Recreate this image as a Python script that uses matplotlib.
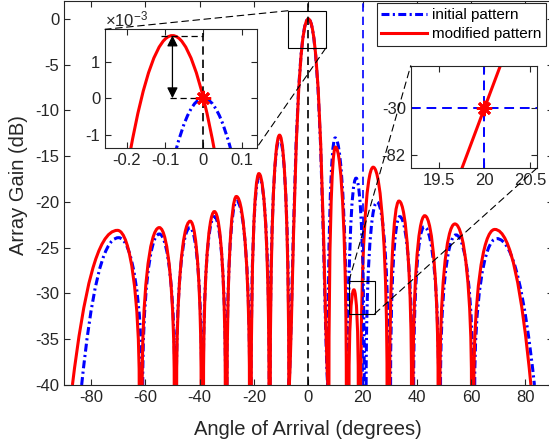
import matplotlib
matplotlib.use('Agg')
import matplotlib.pyplot as plt
from matplotlib.path import Path
from matplotlib.patches import PathPatch, Rectangle, ConnectionPatch
from matplotlib.lines import Line2D

plt.rcParams['font.family'] = ['Liberation Sans', 'DejaVu Sans']
plt.rcParams['mathtext.fontset'] = 'custom'
plt.rcParams['mathtext.rm'] = 'Liberation Sans'
plt.rcParams['mathtext.it'] = 'Liberation Sans:italic'
plt.rcParams['axes.unicode_minus'] = False

GREY = '#262626'
FLOOR = -40
DASHDOT = (0, (2.6, 1.1, 0.7, 1.1))

# lobes of each pattern: where it leaves -40 dB on the left, its peak, where it drops back on the right
init_left = [-83.5, -61.0, -48.6, -38.7, -30.0, -21.1, -14.1, -7.1, 7.2, 14.6, 21.3, 30.3, 38.8, 48.7, 61.3]
init_peak_x = [-69.9, -54.9, -43.6, -34.6, -26.4, -18.1, -10.6, 0.0, 9.9, 17.6, 25.3, 33.7, 42.7, 54.4, 69.4]
init_peak_y = [-23.9, -23.5, -22.8, -21.6, -19.9, -17.3, -13.1, 0.0, -13.0, -17.4, -20.0, -21.6, -22.7, -23.6, -24.0]
init_right = [-61.3, -49.2, -39.3, -30.5, -21.6, -14.4, -7.1, 7.1, 14.2, 20.6, 29.6, 38.3, 48.0, 60.6, 83.3]

mod_left = [-86.9, -61.2, -48.5, -38.6, -29.9, -21.0, -14.0, -7.0, 7.6, 15.0, 19.4, 30.0, 38.6, 48.5, 61.0]
mod_peak_x = [-70.3, -54.9, -43.5, -34.6, -26.5, -18.2, -10.6, 0.0, 10.0, 16.8, 23.9, 33.4, 42.9, 54.0, 68.7]
mod_peak_y = [-23.1, -22.8, -22.1, -21.05, -19.4, -16.9, -12.7, 0.0, -14.0, -29.6, -16.2, -19.9, -21.5, -22.4, -23.0]
mod_right = [-62.3, -49.4, -39.5, -30.6, -21.7, -14.5, -7.2, 7.2, 14.0, 18.4, 29.0, 38.0, 47.8, 60.1, 82.0]

# zoom on the main beam (gain in 1e-3 dB)
beam_init_x = [-0.074, 0.0, 0.074]
beam_init_y = [-1.5, 0.0, -1.5]
beam_mod_x = [-0.192, -0.081, 0.030]
beam_mod_y = [-1.5, 1.71, -1.5]

# zoom on the constrained direction
cons_mod_x = [19.74, 20.22]
cons_mod_y = [-31.24, -28.96]
target_angle = 20
target_gain = -30

# boxes marking the zoomed regions (x0, x1, y0, y1)
box_beam = [-7.5, 6.4, -3.2, 0.9]
box_cons = [15.0, 24.5, -32.2, -28.6]

# side shapes (fraction along, fraction up) for the bezier control points
SHAPE_NULL = (0.0, 0.55, 0.4)
SHAPE_MAIN = (0.2, 0.2, 0.3)
SHAPE_EDGE = (0.25, 0.6, 0.55)


def ctrl(base, top_x, top_y, shape):
    p, k, m = shape
    h = top_y - FLOOR
    return (base + p * (top_x - base), FLOOR + k * h), (base + m * (top_x - base), top_y)


def lobe_path(left, peak_x, peak_y, right):
    verts, codes = [], []
    n = len(left)
    for i in range(n):
        a, px, py, b = left[i], peak_x[i], peak_y[i], right[i]
        sl = SHAPE_MAIN if py > -5 else SHAPE_NULL
        sr = sl
        if i == 0:
            sl = SHAPE_EDGE
        if i == n - 1:
            sr = SHAPE_EDGE
        c1, c2 = ctrl(a, px, py, sl)
        d1, d2 = ctrl(b, px, py, sr)
        verts += [(a, FLOOR), c1, c2, (px, py), d2, d1, (b, FLOOR)]
        codes += [Path.MOVETO] + [Path.CURVE4] * 6
    return Path(verts, codes)


def parabola(xs, ys):
    verts = [(xs[0], ys[0]), (xs[1], 2 * ys[1] - ys[0]), (xs[2], ys[2])]
    return Path(verts, [Path.MOVETO, Path.CURVE3, Path.CURVE3])


def style_axes(a, size=12):
    a.tick_params(direction='in', top=True, right=True, labelsize=size,
                  colors=GREY, length=4, width=0.8)
    for s in a.spines.values():
        s.set_color(GREY)
        s.set_linewidth(0.8)


fig = plt.figure(figsize=(5.49, 4.46), dpi=100)
ax = fig.add_axes([0.1166, 0.1368, 0.890, 0.8617])

ax.add_patch(PathPatch(lobe_path(init_left, init_peak_x, init_peak_y, init_right),
                       fill=False, edgecolor='b', lw=2.2, linestyle=DASHDOT))
ax.add_patch(PathPatch(lobe_path(mod_left, mod_peak_x, mod_peak_y, mod_right),
                       fill=False, edgecolor='r', lw=2.2))
ax.axvline(0, color='k', ls=(0, (5, 3)), lw=1.2, zorder=3)
ax.axvline(target_angle, color='b', ls=(0, (5, 3)), lw=1.2, zorder=3)

for bx in (box_beam, box_cons):
    ax.add_patch(Rectangle((bx[0], bx[2]), bx[1] - bx[0], bx[3] - bx[2],
                           fill=False, edgecolor='k', lw=0.8, zorder=4))

ax.set_xlim(-90, 90)
ax.set_ylim(-40, 2)
ax.set_xticks(range(-80, 81, 20))
ax.set_yticks(range(-40, 1, 5))
style_axes(ax)
ax.set_xlabel('Angle of Arrival (degrees)', fontsize=14.5, color=GREY, labelpad=11)
ax.set_ylabel('Array Gain (dB)', fontsize=14.5, color=GREY)
ax.yaxis.set_label_coords(-0.074, 0.52)

handles = [Line2D([], [], color='b', lw=2.2, ls=DASHDOT), Line2D([], [], color='r', lw=2.2)]
leg = ax.legend(handles, ['initial pattern', 'modified pattern'], loc='upper left',
                bbox_to_anchor=(376.7 / 549, 1 - 3.3 / 446), bbox_transform=fig.transFigure,
                fontsize=11, fancybox=False, edgecolor=GREY, framealpha=1,
                borderaxespad=0, borderpad=0.3, handlelength=3.0,
                handletextpad=0.35, labelspacing=0.35)
leg.get_frame().set_linewidth(0.8)

# inset: main beam peak
ax1 = fig.add_axes([0.1913, 0.6688, 0.2763, 0.2655])
ax1.add_patch(PathPatch(parabola(beam_init_x, beam_init_y), fill=False,
                        edgecolor='b', lw=2.2, linestyle=DASHDOT))
ax1.add_patch(PathPatch(parabola(beam_mod_x, beam_mod_y), fill=False,
                        edgecolor='r', lw=2.2))
ax1.axvline(0, color='k', ls=(0, (5, 3)), lw=1.2)
ax1.hlines(beam_mod_y[1], -0.11, 0, color='k', ls=(0, (5, 3)), lw=0.9)
ax1.hlines(beam_init_y[1], -0.087, 0, color='k', ls=(0, (5, 3)), lw=0.9)
ax1.annotate('', xy=(beam_mod_x[1], beam_init_y[1]), xytext=(beam_mod_x[1], beam_mod_y[1]),
             arrowprops=dict(arrowstyle='<|-|>', color='k', lw=0.9, mutation_scale=16,
                             shrinkA=0, shrinkB=0))
ax1.plot(beam_init_x[1], beam_init_y[1], marker=(8, 2, 0), color='r', ms=11, mew=2, zorder=5)
ax1.set_xlim(-0.257, 0.139)
ax1.set_ylim(-1.35, 1.88)
ax1.set_xticks([-0.2, -0.1, 0, 0.1])
ax1.set_xticklabels(['-0.2', '-0.1', '0', '0.1'])
ax1.set_yticks([-1, 0, 1])
style_axes(ax1)
ax1.text(0.0, 1.0, r'$\times10^{-3}$', transform=ax1.transAxes, ha='left', va='bottom',
         fontsize=12, color=GREY)

# inset: constrained direction
ax2 = fig.add_axes([0.7481, 0.6226, 0.2295, 0.2300])
ax2.plot(cons_mod_x, cons_mod_y, color='r', lw=2.2)
ax2.axvline(target_angle, color='b', ls=(0, (5, 3)), lw=1.4)
ax2.axhline(target_gain, color='b', ls=(0, (5, 3)), lw=1.4)
ax2.plot(target_angle, target_gain, marker=(8, 2, 0), color='r', ms=11, mew=2, zorder=5)
ax2.set_xlim(19.194, 20.574)
ax2.set_ylim(-31.17, -29.17)
ax2.set_xticks([19.5, 20, 20.5])
ax2.set_xticklabels(['19.5', '20', '20.5'])
ax2.set_yticks([-30.91, -30])
ax2.set_yticklabels(['-82', '-30'])
style_axes(ax2)

# dashed connectors from boxes to insets
links = [((box_beam[0], box_beam[3]), ax1, (0, 1)),
         ((box_beam[1], box_beam[2]), ax1, (1, 0)),
         ((box_cons[0], box_cons[3]), ax2, (0, 1)),
         ((box_cons[1], box_cons[2]), ax2, (1, 0))]
for xy, target, corner in links:
    con = ConnectionPatch(xyA=xy, coordsA=ax.transData, xyB=corner, coordsB=target.transAxes,
                          color='k', lw=0.8, ls=(0, (6, 4)), zorder=6)
    fig.add_artist(con)

fig.savefig('out.png', dpi=100)
